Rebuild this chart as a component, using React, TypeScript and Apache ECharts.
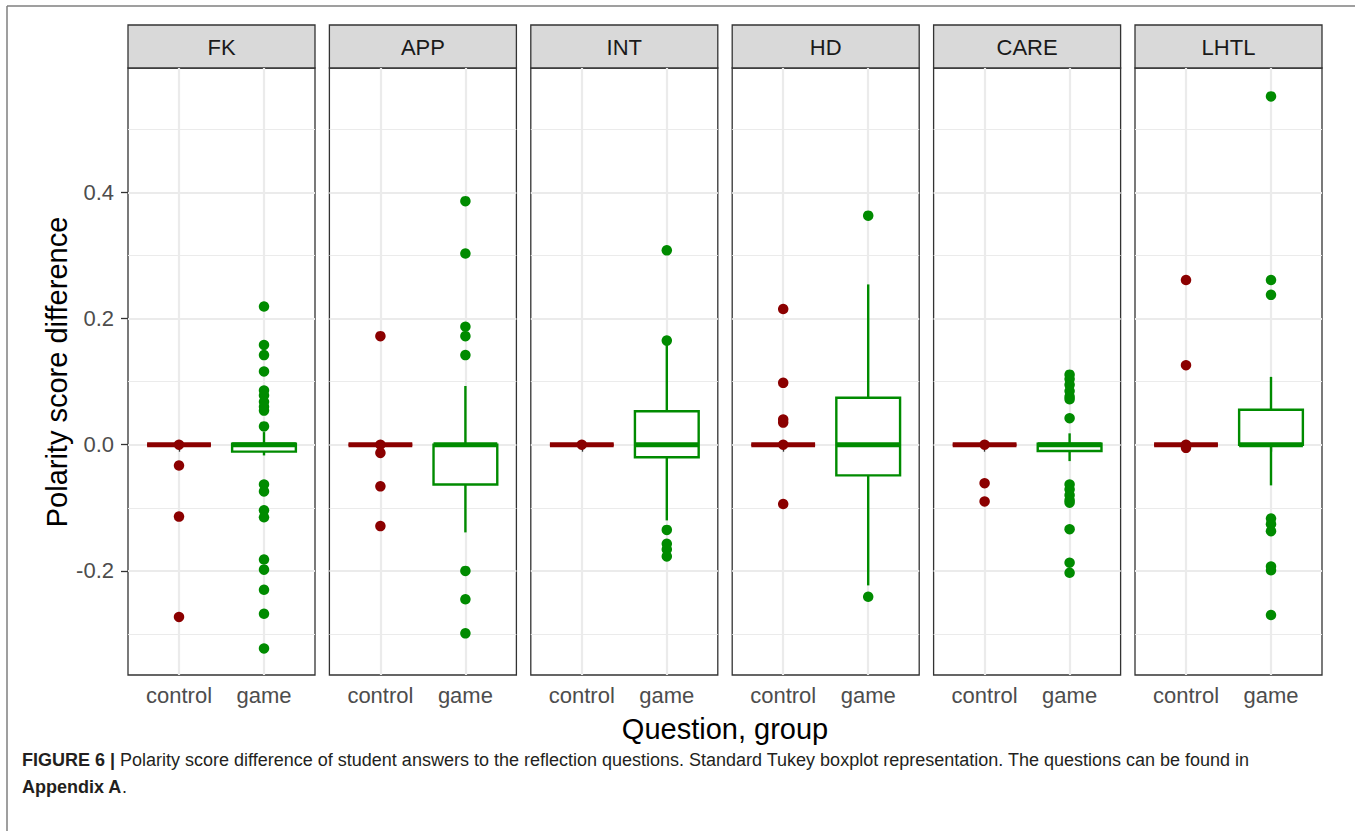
import React, { useEffect, useRef } from "react";
import * as echarts from "echarts";

// ---- data ----
const questions = ["FK", "APP", "INT", "HD", "CARE", "LHTL"];
const groups = ["control", "game"];

// [min, Q1, median, Q3, max] of the whiskers/box
const controlBoxes = [
  [0, 0, 0, 0, 0],
  [0, 0, 0, 0, 0],
  [0, 0, 0, 0, 0],
  [0, 0, 0, 0, 0],
  [0, 0, 0, 0, 0],
  [0, 0, 0, 0, 0],
];
const gameBoxes = [
  [-0.017, -0.011, 0, 0.0015, 0.02],
  [-0.139, -0.063, 0, 0, 0.093],
  [-0.12, -0.02, 0, 0.053, 0.163],
  [-0.223, -0.0486, 0, 0.0744, 0.254],
  [-0.026, -0.01, 0, 0.0016, 0.018],
  [-0.0645, 0, 0, 0.0554, 0.1075],
];

const controlOutliers = [
  [0, -0.033, -0.114, -0.273],
  [0.172, 0, -0.013, -0.066, -0.129],
  [0],
  [0.215, 0.098, 0.04, 0.035, 0, -0.094],
  [0, -0.061, -0.09],
  [0.261, 0.126, 0, -0.005],
];
const gameOutliers = [
  [0.219, 0.158, 0.142, 0.116, 0.086, 0.078, 0.068, 0.06, 0.054, 0.029, -0.063, -0.074, -0.104, -0.115, -0.182, -0.198, -0.23, -0.268, -0.323],
  [0.386, 0.303, 0.187, 0.172, 0.142, -0.2, -0.245, -0.299],
  [0.308, 0.165, -0.135, -0.157, -0.166, -0.177],
  [0.363, -0.241],
  [0.111, 0.104, 0.095, 0.085, 0.076, 0.072, 0.042, -0.063, -0.071, -0.08, -0.088, -0.092, -0.134, -0.187, -0.203],
  [0.552, 0.261, 0.2375, -0.117, -0.126, -0.137, -0.193, -0.199, -0.27],
];

const yMajorTicks = [-0.2, 0, 0.2, 0.4];
const yMinorTicks = [-0.3, -0.1, 0.1, 0.3, 0.5];
const xTicks = [1, 2];

const captionLead = "FIGURE 6 |";
const captionText =
  " Polarity score difference of student answers to the reflection questions. Standard Tukey boxplot representation. The questions can be found in";
const captionLine2Bold = "Appendix A";
const yTitle = "Polarity score difference";
const xTitle = "Question, group";

// ---- layout / style ----
const FONT = "'Liberation Sans', Arial, Helvetica, sans-serif";
const PANEL_LEFT = 128;
const PANEL_STEP = 201.4;
const PANEL_W = 187;
const PANEL_TOP = 68;
const PANEL_H = 607;
const STRIP_TOP = 25;
const CONTROL_COLOR = "#8B0000";
const GAME_COLOR = "#008B00";
const GRID_COLOR = "#EBEBEB";
const BORDER = "#333333";
const TICK_FONT = 22;
const TITLE_FONT = 29;
const CAPTION_FONT = 18;

function boxRenderer(color: string) {
  return (params: any, api: any) => {
    const x = api.value(0);
    const mn = api.value(1);
    const q1 = api.value(2);
    const md = api.value(3);
    const q3 = api.value(4);
    const mx = api.value(5);
    const pMin = api.coord([x, mn]);
    const pQ1 = api.coord([x, q1]);
    const pMd = api.coord([x, md]);
    const pQ3 = api.coord([x, q3]);
    const pMax = api.coord([x, mx]);
    const hw = api.size([0.75, 0])[0] / 2;
    const px = pMd[0];
    return {
      type: "group",
      children: [
        { type: "line", shape: { x1: px, y1: pMax[1], x2: px, y2: pQ3[1] }, style: { stroke: color, lineWidth: 2.4 } },
        { type: "line", shape: { x1: px, y1: pQ1[1], x2: px, y2: pMin[1] }, style: { stroke: color, lineWidth: 2.4 } },
        {
          type: "rect",
          shape: { x: px - hw, y: pQ3[1], width: hw * 2, height: pQ1[1] - pQ3[1] },
          style: { fill: "#ffffff", stroke: color, lineWidth: 2.4 },
        },
        { type: "line", shape: { x1: px - hw, y1: pMd[1], x2: px + hw, y2: pMd[1] }, style: { stroke: color, lineWidth: 5, lineCap: "butt" } },
      ],
    };
  };
}

function buildOption() {
  const grids: any[] = [];
  const xAxes: any[] = [];
  const yAxes: any[] = [];
  const series: any[] = [];
  const graphics: any[] = [];

  questions.forEach((q, i) => {
    const left = PANEL_LEFT + i * PANEL_STEP;
    grids.push({
      left,
      top: PANEL_TOP,
      width: PANEL_W,
      height: PANEL_H,
      show: true,
      backgroundColor: "#ffffff",
      borderColor: BORDER,
      borderWidth: 1.3,
      containLabel: false,
      outerBoundsMode: "none",
    });
    xAxes.push({
      gridIndex: i,
      type: "value",
      min: 0.4,
      max: 2.6,
      axisLine: { show: false },
      axisTick: { show: true, customValues: xTicks, length: 7, lineStyle: { color: BORDER, width: 1.3 } },
      axisLabel: {
        show: true,
        customValues: xTicks,
        formatter: (v: number) => groups[Math.round(v) - 1] ?? "",
        fontSize: TICK_FONT,
        color: "#4D4D4D",
        fontFamily: FONT,
        margin: 9,
      },
      splitLine: { show: false },
    });
    yAxes.push({
      gridIndex: i,
      type: "value",
      min: -0.365,
      max: 0.597,
      axisLine: { show: false },
      axisTick: { show: i === 0, customValues: yMajorTicks, length: 7, lineStyle: { color: BORDER, width: 1.3 } },
      axisLabel: {
        show: i === 0,
        customValues: yMajorTicks,
        formatter: (v: number) => v.toFixed(1),
        fontSize: TICK_FONT,
        color: "#4D4D4D",
        fontFamily: FONT,
        margin: 14,
      },
      splitLine: { show: false },
    });

    // grid lines (drawn under the boxes)
    series.push({
      type: "scatter",
      xAxisIndex: i,
      yAxisIndex: i,
      data: [],
      silent: true,
      z: 0,
      markLine: {
        silent: true,
        z: 0,
        symbol: ["none", "none"],
        label: { show: false },
        lineStyle: { color: GRID_COLOR, type: "solid", width: 1.2 },
        emphasis: { disabled: true },
        data: [
          ...yMinorTicks.map((v) => ({ yAxis: v, lineStyle: { color: GRID_COLOR, type: "solid", width: 1.2 } })),
          ...yMajorTicks.map((v) => ({ yAxis: v, lineStyle: { color: GRID_COLOR, type: "solid", width: 2.2 } })),
          ...xTicks.map((v) => ({ xAxis: v, lineStyle: { color: GRID_COLOR, type: "solid", width: 2.2 } })),
        ],
      },
    });

    series.push({
      type: "custom",
      xAxisIndex: i,
      yAxisIndex: i,
      z: 5,
      silent: true,
      encode: { x: 0, y: [1, 2, 3, 4, 5] },
      renderItem: boxRenderer(CONTROL_COLOR),
      data: [[1, ...controlBoxes[i]]],
    });
    series.push({
      type: "custom",
      xAxisIndex: i,
      yAxisIndex: i,
      z: 5,
      silent: true,
      encode: { x: 0, y: [1, 2, 3, 4, 5] },
      renderItem: boxRenderer(GAME_COLOR),
      data: [[2, ...gameBoxes[i]]],
    });
    series.push({
      type: "scatter",
      xAxisIndex: i,
      yAxisIndex: i,
      z: 6,
      silent: true,
      symbolSize: 10.5,
      itemStyle: { color: CONTROL_COLOR, opacity: 1 },
      data: controlOutliers[i].map((v) => [1, v]),
    });
    series.push({
      type: "scatter",
      xAxisIndex: i,
      yAxisIndex: i,
      z: 6,
      silent: true,
      symbolSize: 10.5,
      itemStyle: { color: GAME_COLOR, opacity: 1 },
      data: gameOutliers[i].map((v) => [2, v]),
    });

    // facet strip
    graphics.push({
      type: "rect",
      shape: { x: left, y: STRIP_TOP, width: PANEL_W, height: PANEL_TOP - STRIP_TOP },
      style: { fill: "#D9D9D9", stroke: BORDER, lineWidth: 1.3 },
    });
    graphics.push({
      type: "text",
      x: left + PANEL_W / 2,
      y: (STRIP_TOP + PANEL_TOP) / 2 + 1,
      style: { text: q, align: "center", verticalAlign: "middle", fontSize: TICK_FONT, fontFamily: FONT, fill: "#1A1A1A" },
    });
  });

  // figure frame
  graphics.push({ type: "line", shape: { x1: 7, y1: 6, x2: 7, y2: 831 }, style: { stroke: "#7F7F7F", lineWidth: 1.5 } });
  graphics.push({ type: "line", shape: { x1: 7, y1: 6, x2: 1355, y2: 6 }, style: { stroke: "#7F7F7F", lineWidth: 1.5 } });

  // axis titles
  graphics.push({
    type: "text",
    x: 57,
    y: 372,
    rotation: Math.PI / 2,
    style: { text: yTitle, align: "center", verticalAlign: "middle", fontSize: TITLE_FONT, fontFamily: FONT, fill: "#000000" },
  });
  graphics.push({
    type: "text",
    x: PANEL_LEFT + (5 * PANEL_STEP + PANEL_W) / 2,
    y: 729,
    style: { text: xTitle, align: "center", verticalAlign: "middle", fontSize: TITLE_FONT, fontFamily: FONT, fill: "#000000" },
  });

  // caption
  const richStyles = {
    b: { fontWeight: "bold", fontSize: CAPTION_FONT, fontFamily: FONT, fill: "#231F20" },
    n: { fontSize: CAPTION_FONT, fontFamily: FONT, fill: "#231F20" },
  };
  graphics.push({
    type: "text",
    x: 22,
    y: 760,
    style: {
      text: "{b|" + captionLead + "}{n|" + captionText + "}",
      align: "left",
      verticalAlign: "middle",
      fontSize: CAPTION_FONT,
      fontFamily: FONT,
      fill: "#231F20",
      rich: richStyles,
    },
  });
  graphics.push({
    type: "text",
    x: 22,
    y: 787,
    style: {
      text: "{b|" + captionLine2Bold + "}{n|.}",
      align: "left",
      verticalAlign: "middle",
      fontSize: CAPTION_FONT,
      fontFamily: FONT,
      fill: "#231F20",
      rich: richStyles,
    },
  });

  return {
    animation: false,
    backgroundColor: "#ffffff",
    textStyle: { fontFamily: FONT },
    grid: grids,
    xAxis: xAxes,
    yAxis: yAxes,
    series,
    graphic: { elements: graphics },
  };
}

export default function App() {
  const ref = useRef<HTMLDivElement>(null);
  useEffect(() => {
    if (!ref.current) return;
    const chart = echarts.init(ref.current, undefined, { renderer: "svg" });
    chart.setOption(buildOption() as any);
    return () => chart.dispose();
  }, []);
  return (
    <div
      ref={ref}
      style={{ position: "fixed", left: 0, top: 0, width: 1355, height: 831, background: "#ffffff" }}
    />
  );
}
